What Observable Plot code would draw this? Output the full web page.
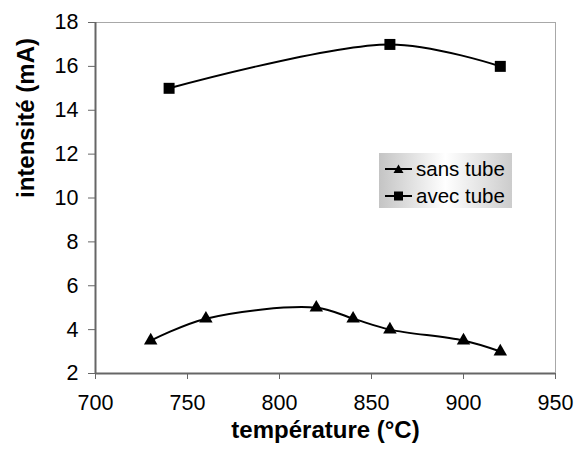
<!DOCTYPE html>
<html>
<head>
<meta charset="utf-8">
<script src="https://cdn.jsdelivr.net/npm/d3@7"></script>
<script src="https://cdn.jsdelivr.net/npm/@observablehq/plot@0.6"></script>
<style>
  html, body { margin: 0; padding: 0; background: #fff; }
  #wrap { position: relative; width: 576px; height: 453px; font-family: "Liberation Sans", Arial, sans-serif; }
  #legend { position: absolute; left: 379px; top: 153px; width: 133px; height: 55px;
    background: linear-gradient(to right, #c4c4c4 0%, #ffffff 50%, #cccccc 100%);
    font-size: 20.5px; color: #000; box-sizing: border-box; padding-top: 2px; }
  #legend .row { display: flex; align-items: center; height: 27px; }
  #legend svg { margin-left: 6px; margin-right: 4px; }
</style>
</head>
<body>
<div id="wrap"></div>
<script>
const sansTubeT = [730, 760, 820, 840, 860, 900, 920];
const sansTubeI = [3.5, 4.5, 5, 4.5, 4, 3.5, 3];
const avecTubeT = [740, 860, 920];
const avecTubeI = [15, 17, 16];
const xTicks = [700, 750, 800, 850, 900, 950];
const yTicks = [2, 4, 6, 8, 10, 12, 14, 16, 18];
const seriesNames = ["sans tube", "avec tube"];
const xTitle = "température (°C)";
const yTitle = "intensité (mA)";

const sans = sansTubeT.map((t, i) => ({t, v: sansTubeI[i]}));
const avec = avecTubeT.map((t, i) => ({t, v: avecTubeI[i]}));

const chart = Plot.plot({
  width: 576,
  height: 453,
  marginLeft: 95,
  marginRight: 21,
  marginTop: 22,
  marginBottom: 80,
  style: {fontFamily: "'Liberation Sans', Arial, sans-serif", background: "#fff"},
  x: {domain: [700, 950]},
  y: {domain: [2, 18]},
  marks: [
    Plot.ruleY([18], {stroke: "#a8a8a8", strokeWidth: 1}),
    Plot.ruleX([950], {stroke: "#a8a8a8", strokeWidth: 1}),
    Plot.axisX({ticks: xTicks, tickSize: 6, tickPadding: 15, fontSize: 21.5, stroke: "#666", color: "#000", label: null, tickFormat: d => String(d)}),
    Plot.axisY({ticks: yTicks, tickSize: 7, tickPadding: 10, fontSize: 21.5, stroke: "#666", color: "#000", label: null, tickFormat: d => String(d)}),
    Plot.ruleX([700], {stroke: "#666", strokeWidth: 2}),
    Plot.ruleY([2], {stroke: "#666", strokeWidth: 2}),
    Plot.line(sans, {x: "t", y: "v", curve: "catmull-rom", stroke: "#000", strokeWidth: 2}),
    Plot.line(avec, {x: "t", y: "v", curve: "catmull-rom", stroke: "#000", strokeWidth: 2}),
    Plot.dot(sans, {x: "t", y: "v", symbol: "triangle", r: 5, fill: "#000", stroke: "none"}),
    Plot.dot(avec, {x: "t", y: "v", symbol: "square", r: 6.2, fill: "#000", stroke: "none"}),
    Plot.text([xTitle], {frameAnchor: "bottom", dy: 64, fontSize: 24, fontWeight: "bold", fill: "#000"}),
    Plot.text([yTitle], {frameAnchor: "left", dx: -69, rotate: -90, fontSize: 24, fontWeight: "bold", fill: "#000"})
  ]
});

const wrap = document.getElementById("wrap");
wrap.appendChild(chart);

const legend = document.createElement("div");
legend.id = "legend";
const symbols = [
  '<svg width="27" height="14"><line x1="0" y1="7" x2="27" y2="7" stroke="#000" stroke-width="2"/><path d="M13.5,2.5 L18.5,11 L8.5,11 Z" fill="#000"/></svg>',
  '<svg width="27" height="14"><line x1="0" y1="7" x2="27" y2="7" stroke="#000" stroke-width="2"/><rect x="9" y="2.5" width="9" height="9" fill="#000"/></svg>'
];
seriesNames.forEach((name, i) => {
  const row = document.createElement("div");
  row.className = "row";
  row.innerHTML = symbols[i] + "<span>" + name + "</span>";
  legend.appendChild(row);
});
wrap.appendChild(legend);
</script>
</body>
</html>
